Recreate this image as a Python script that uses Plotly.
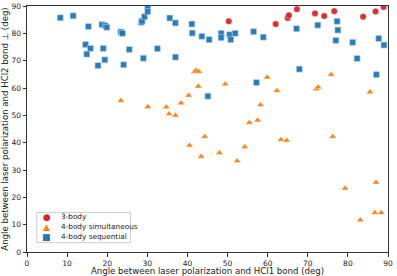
import plotly.graph_objects as go

# 3-body
x_3body = [50.3, 62.0, 65.0, 65.3, 67.3, 71.8, 74.1, 76.6, 83.8, 86.9, 88.9]
y_3body = [84.4, 83.4, 85.6, 86.6, 88.8, 87.3, 86.3, 88.1, 86.1, 88.0, 89.6]

# 4-body simultaneous
x_4sim = [23.4, 30.1, 34.7, 35.4, 37.0, 38.4, 40.3, 42.7, 41.7, 42.1, 42.8,
          49.4, 59.9, 62.3, 58.2, 55.4, 57.5, 44.3, 75.8, 72.1, 72.6, 85.5,
          76.2, 40.5, 43.4, 48.0, 52.4, 54.3, 63.3, 64.7, 79.3, 87.0, 83.1,
          86.7, 88.3]
y_4sim = [55.4, 53.1, 53.0, 50.5, 50.0, 54.5, 57.3, 60.6, 65.9, 66.4, 66.0,
          61.4, 63.9, 59.0, 53.8, 47.3, 48.2, 42.2, 64.9, 59.6, 60.3, 58.5,
          42.2, 39.0, 34.9, 36.3, 33.3, 38.5, 41.1, 40.8, 23.3, 25.5, 11.7,
          14.4, 14.4]

# 4-body sequential
x_4seq = [8.3, 11.5, 15.3, 14.6, 15.8, 14.9, 17.7, 18.7, 19.5, 19.9, 19.0,
          19.4, 23.4, 23.8, 24.1, 25.5, 28.5, 28.7, 29.3, 30.1, 30.1, 29.0,
          32.5, 35.6, 37.0, 37.0, 41.1, 41.2, 43.6, 45.4, 48.4, 48.4, 50.5,
          50.8, 51.9, 56.5, 58.9, 67.2, 72.5, 77.3, 77.5, 77.0, 81.2, 82.3,
          87.7, 89.0, 87.1, 67.9, 57.2, 45.1]
y_4seq = [85.7, 86.4, 82.5, 75.9, 74.5, 72.4, 68.2, 83.2, 82.8, 82.2, 74.5,
          70.3, 80.5, 80.0, 68.5, 74.1, 84.0, 84.5, 86.1, 89.5, 87.9, 70.9,
          74.4, 85.6, 83.8, 71.3, 83.4, 80.1, 78.9, 77.7, 80.0, 78.4, 79.5,
          77.7, 80.0, 80.6, 78.6, 81.7, 83.0, 84.4, 81.2, 77.4, 76.7, 70.8,
          78.1, 75.7, 64.9, 66.9, 62.0, 57.0]

ticks = list(range(0, 91, 10))

series_names = ["3-body", "4-body simultaneous", "4-body sequential"]
series_colors = ["#d62728", "#ff7f0e", "#1f77b4"]
series_symbols = ["circle", "triangle-up", "square"]
legend_glyphs = ["●", "▲", "■"]

fig = go.Figure()
data = [(x_3body, y_3body), (x_4sim, y_4sim), (x_4seq, y_4seq)]
sizes = [6.5, 6.5, 6]
for (xs, ys), name, col, sym, sz in zip(data, series_names, series_colors, series_symbols, sizes):
    edge = "rgba(190,215,235,0.9)" if sym == "square" else "rgba(255,255,255,0.6)"
    fig.add_trace(go.Scatter(
        x=xs, y=ys, mode="markers", name=name, showlegend=False,
        marker=dict(symbol=sym, size=sz, color=col,
                    line=dict(width=0.7, color=edge), opacity=0.95)))

# compact legend box (matplotlib-like)
fig.add_shape(type="rect", xref="paper", yref="paper",
              x0=0.027, x1=0.287, y0=0.038, y1=0.161,
              line=dict(color="#cccccc", width=1), fillcolor="rgba(255,255,255,0.8)",
              layer="above")
row_y = [0.1435, 0.1028, 0.0622]
for name, col, g, yy in zip(series_names, series_colors, legend_glyphs, row_y):
    fig.add_annotation(xref="paper", yref="paper", x=0.0546, y=yy, text=g,
                       showarrow=False, xanchor="center", yanchor="middle",
                       font=dict(family="DejaVu Sans", size=9, color=col))
    fig.add_annotation(xref="paper", yref="paper", x=0.0886, y=yy, text=name,
                       showarrow=False, xanchor="left", yanchor="middle",
                       font=dict(family="DejaVu Sans", size=7.3, color="#222222"))

axis_common = dict(
    showgrid=False, zeroline=False, showline=True, linecolor="#333333",
    linewidth=1, mirror=True, ticks="outside", ticklen=3.5, tickwidth=0.8,
    tickcolor="#333333", tickfont=dict(family="DejaVu Sans", size=7.5, color="#222222"),
    tickvals=ticks, ticktext=[str(t) for t in ticks], automargin=False,
)

fig.update_layout(
    width=397, height=276,
    margin=dict(l=27, r=9, t=6, b=24),
    paper_bgcolor="white", plot_bgcolor="white",
    showlegend=False,
    xaxis=dict(range=[0, 90], title=dict(text="Angle between laser polarization and HCl1 bond (deg)",
               font=dict(family="DejaVu Sans", size=8.6, color="#222222")), **axis_common),
    yaxis=dict(range=[0, 90], title=dict(text="Angle between laser polarization and HCl2 bond ⊥ (deg)",
               font=dict(family="DejaVu Sans", size=8.6, color="#222222")), **axis_common),
)

fig.write_html("out.html", config={"displayModeBar": False},
               post_script="document.body.style.margin='0';")
